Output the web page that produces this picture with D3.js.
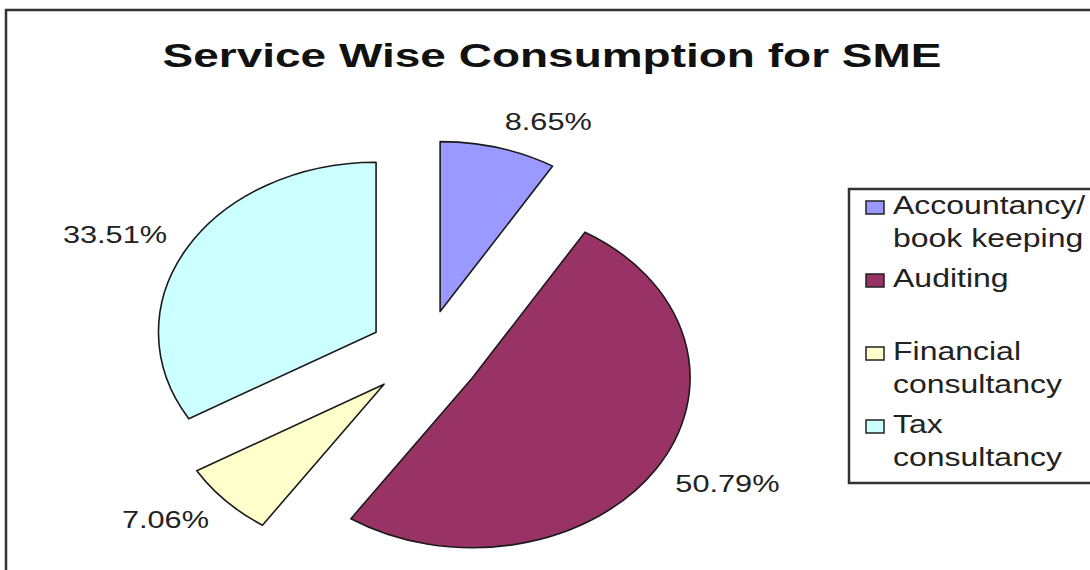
<!DOCTYPE html>
<html>
<head>
<meta charset="utf-8">
<script src="https://cdn.jsdelivr.net/npm/d3@7"></script>
<style>
  html, body { margin: 0; padding: 0; background: #fff; }
  svg { display: block; }
  text { font-family: "Liberation Sans", Arial, sans-serif; fill: #222; }
</style>
</head>
<body>
<div id="chart"></div>
<script>
// data
const categories = ["Accountancy/ book keeping", "Auditing", "Financial consultancy", "Tax consultancy"];
const legendLines = [["Accountancy/", "book keeping"], ["Auditing"], ["Financial", "consultancy"], ["Tax", "consultancy"]];
const values = [8.65, 50.79, 7.06, 33.51];
const valueLabels = ["8.65%", "50.79%", "7.06%", "33.51%"];
const colors = ["#9999FF", "#993366", "#FFFFCC", "#CCFFFF"];
const title = "Service Wise Consumption for SME";

const W = 1090, H = 570;
const k = 1.28;          // the whole picture is stretched sideways
const cx = 425, cy = 354;
const R = 170, explode = 44;

const svg = d3.select('#chart').append('svg')
  .attr('width', W).attr('height', H);

// chart area frame (runs off the right and bottom edge)
svg.append('rect')
  .attr('x', 6).attr('y', 10)
  .attr('width', 1200).attr('height', 700)
  .attr('fill', '#fff')
  .attr('stroke', '#333').attr('stroke-width', 2.5);

// title
const t = svg.append('g').attr('transform', `translate(552,67)`);
const tt = t.append('text')
  .attr('text-anchor', 'middle')
  .attr('font-size', 34).attr('font-weight', 'bold')
  .style('fill', '#111')
  .text(title);
const tw = tt.node().getComputedTextLength();
tt.attr('transform', `scale(${779 / tw},1)`);

// pie
const pie = d3.pie().sort(null).value(d => d);
const arcs = pie(values);
const arc = d3.arc().innerRadius(0).outerRadius(R);

const pieG = svg.append('g')
  .attr('transform', `translate(${cx},${cy}) scale(${k},1)`);

pieG.selectAll('path')
  .data(arcs)
  .enter()
  .append('path')
  .attr('transform', d => {
    const a = (d.startAngle + d.endAngle) / 2;
    return `translate(${Math.sin(a) * explode},${-Math.cos(a) * explode})`;
  })
  .attr('d', arc)
  .attr('fill', (d, i) => colors[i])
  .attr('stroke', '#1a1a1a')
  .attr('stroke-width', 1.6)
  .attr('stroke-linejoin', 'round')
  .attr('vector-effect', 'non-scaling-stroke');

// data labels: outside the slice, near edge anchored to the mid-angle point
const Rp = 232;
arcs.forEach((d, i) => {
  const a = (d.startAngle + d.endAngle) / 2;
  const right = Math.sin(a) >= 0;
  const px = cx + k * Rp * Math.sin(a);
  const py = cy - Rp * Math.cos(a) - Math.cos(a) * 9;
  svg.append('g')
    .attr('transform', `translate(${px},${py}) scale(${k},1)`)
    .append('text')
    .attr('text-anchor', right ? 'start' : 'end')
    .attr('dy', '0.35em')
    .attr('font-size', 24)
    .text(valueLabels[i]);
});

// legend
const legend = svg.append('g');
legend.append('rect')
  .attr('x', 849).attr('y', 189)
  .attr('width', 400).attr('height', 294)
  .attr('fill', '#fff')
  .attr('stroke', '#333').attr('stroke-width', 2.5);

const rowY = d3.scaleLinear().domain([0, 3]).range([214, 433]);
categories.forEach((c, i) => {
  const y0 = rowY(i);
  legend.append('rect')
    .attr('x', 866).attr('y', y0 - 13)
    .attr('width', 18).attr('height', 13)
    .attr('fill', colors[i])
    .attr('stroke', '#222').attr('stroke-width', 1.5);
  legendLines[i].forEach((line, j) => {
    legend.append('g')
      .attr('transform', `translate(893,${y0 + j * 33}) scale(${k},1)`)
      .append('text')
      .attr('font-size', 25)
      .text(line);
  });
});
</script>
</body>
</html>
